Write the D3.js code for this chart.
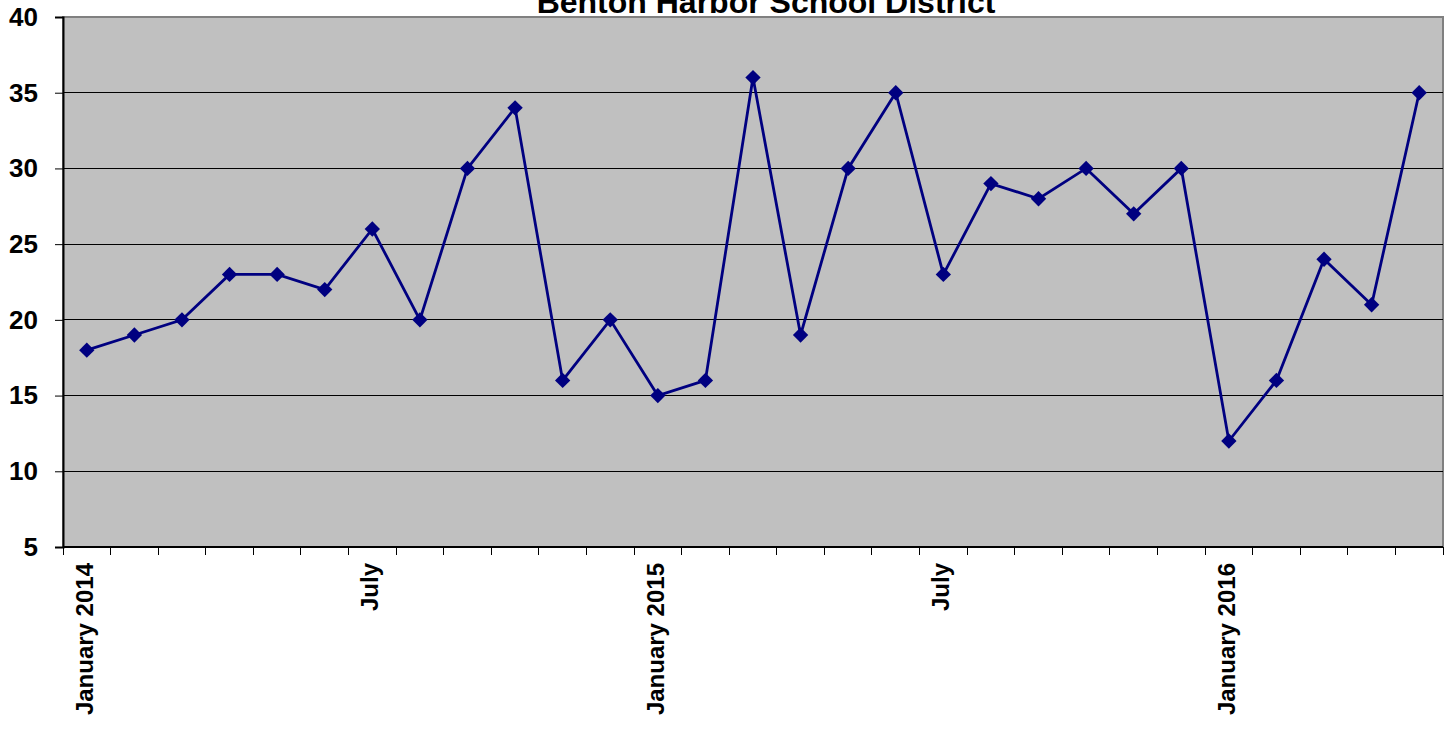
<!DOCTYPE html>
<html>
<head>
<meta charset="utf-8">
<script src="https://cdn.jsdelivr.net/npm/d3@7"></script>
<style>
  body { margin: 0; background: #fff; }
  text { font-family: "Liberation Sans", Arial, sans-serif; font-weight: bold; }
</style>
</head>
<body>
<script>
  // Data
  var months = ["January 2014","Feb","Mar","Apr","May","Jun","July","Aug","Sep","Oct","Nov","Dec",
    "January 2015","Feb","Mar","Apr","May","Jun","July","Aug","Sep","Oct","Nov","Dec",
    "January 2016","Feb","Mar","Apr","May"];
  var values = [18,19,20,23,23,22,26,20,30,34,16,20,15,16,36,19,30,35,23,29,28,30,27,30,12,16,24,21,35];
  var yTicks = [5,10,15,20,25,30,35,40];

  var width = 1453, height = 740;
  var margin = { top: 17, right: 10, bottom: 193, left: 63 };
  var w = width - margin.left - margin.right;
  var h = height - margin.top - margin.bottom;

  var svg = d3.select("body").append("svg")
    .attr("width", width)
    .attr("height", height);

  var g = svg.append("g")
    .attr("transform", "translate(" + margin.left + "," + margin.top + ")");

  var x = d3.scaleBand()
    .domain(d3.range(months.length))
    .range([0, w]);

  var y = d3.scaleLinear()
    .domain([5, 40])
    .range([h, 0]);

  // plot background
  g.append("rect")
    .attr("width", w)
    .attr("height", h)
    .attr("fill", "#c0c0c0")
    .attr("stroke", "#808080")
    .attr("stroke-width", 2);

  // gridlines
  g.selectAll(".grid")
    .data(yTicks.filter(function(d) { return d > 5 && d < 40; }))
    .enter().append("line")
    .attr("x1", 0).attr("x2", w)
    .attr("y1", function(d) { return y(d); })
    .attr("y2", function(d) { return y(d); })
    .attr("stroke", "#000")
    .attr("stroke-width", 1)
    .attr("shape-rendering", "crispEdges");

  // y axis
  var yAxis = g.append("g")
    .call(d3.axisLeft(y).tickValues(yTicks).tickSize(8).tickPadding(17));
  yAxis.select(".domain").attr("stroke", "#000").attr("stroke-width", 2);
  yAxis.selectAll(".tick line").attr("stroke", "#000");
  yAxis.selectAll("text")
    .style("font-size", "26px")
    .attr("fill", "#000");

  // x axis: ticks at category boundaries
  var xAxis = g.append("g")
    .attr("transform", "translate(0," + h + ")");
  xAxis.append("line")
    .attr("x1", 0).attr("x2", w)
    .attr("stroke", "#000").attr("stroke-width", 2);
  xAxis.selectAll(".xtick")
    .data(d3.range(months.length + 1))
    .enter().append("line")
    .attr("x1", function(d) { return d * x.step(); })
    .attr("x2", function(d) { return d * x.step(); })
    .attr("y1", 0).attr("y2", 8)
    .attr("stroke", "#000")
    .attr("shape-rendering", "crispEdges");

  xAxis.selectAll(".xlabel")
    .data(months.map(function(m, i) { return { m: m, i: i }; })
      .filter(function(d) { return d.i % 6 == 0; }))
    .enter().append("text")
    .attr("transform", function(d) {
      return "translate(" + (x(d.i) + x.bandwidth() / 2 + 6) + ",16) rotate(-90)";
    })
    .attr("text-anchor", "end")
    .style("font-size", "24px")
    .attr("fill", "#000")
    .text(function(d) { return d.m; });

  // line
  var line = d3.line()
    .x(function(d, i) { return x(i) + x.bandwidth() / 2; })
    .y(function(d) { return y(d); });

  g.append("path")
    .datum(values)
    .attr("fill", "none")
    .attr("stroke", "#000080")
    .attr("stroke-width", 2.8)
    .attr("d", line);

  g.selectAll(".pt")
    .data(values)
    .enter().append("path")
    .attr("d", d3.symbol().type(d3.symbolDiamond2).size(150))
    .attr("transform", function(d, i) {
      return "translate(" + (x(i) + x.bandwidth() / 2) + "," + y(d) + ")";
    })
    .attr("fill", "#000080");

  // title (cut off at the top as in the original)
  svg.append("text")
    .attr("x", 766)
    .attr("y", 13)
    .attr("text-anchor", "middle")
    .style("font-size", "32px")
    .attr("fill", "#000")
    .text("Benton Harbor School District");
</script>
</body>
</html>
